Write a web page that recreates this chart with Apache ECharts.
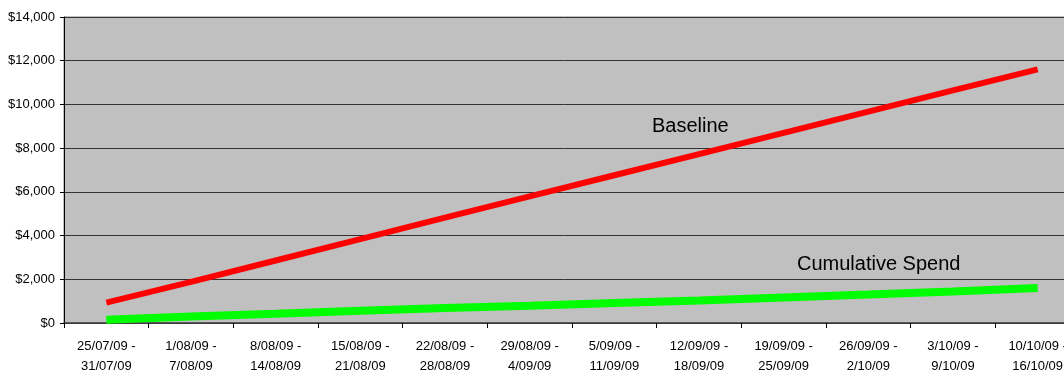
<!DOCTYPE html>
<html>
<head>
<meta charset="utf-8">
<script src="https://cdn.jsdelivr.net/npm/echarts@6/dist/echarts.min.js"></script>
<style>
  html, body { margin: 0; padding: 0; background: #fff; }
  #main { width: 1064px; height: 374px; }
</style>
</head>
<body>
<div id="main"></div>
<script>
// week ranges
var weeks = ['25/07/09 -\n31/07/09', '1/08/09 -\n7/08/09', '8/08/09 -\n14/08/09', '15/08/09 -\n21/08/09',
  '22/08/09 -\n28/08/09', '29/08/09 -\n4/09/09', '5/09/09 -\n11/09/09', '12/09/09 -\n18/09/09',
  '19/09/09 -\n25/09/09', '26/09/09 -\n2/10/09', '3/10/09 -\n9/10/09', '10/10/09 -\n16/10/09'];

var baseline = [930, 1880, 2860, 3840, 4820, 5790, 6760, 7730, 8700, 9670, 10640, 11600];
var cumulativeSpend = [150, 300, 420, 560, 690, 790, 910, 1030, 1170, 1300, 1440, 1600];

var yTicks = { min: 0, max: 14000, interval: 2000 };

var chart = echarts.init(document.getElementById('main'));
var font = '"Liberation Sans", Arial, sans-serif';

var option = {
  animation: false,
  textStyle: { fontFamily: font },
  grid: {
    left: 64,
    top: 17,
    bottom: 51,
    right: -16,   // plot runs past the right edge, like the original
    containLabel: false,
    outerBoundsMode: 'none',
    show: true,
    backgroundColor: '#c0c0c0',
    borderColor: '#808080',
    borderWidth: 1
  },
  xAxis: {
    type: 'category',
    data: weeks,
    boundaryGap: true,
    axisLine: { lineStyle: { color: '#404040', width: 1.5 } },
    axisTick: { show: true, interval: 0, length: 5, lineStyle: { color: '#000' } },
    axisLabel: {
      interval: 0,
      color: '#000',
      fontSize: 13,
      lineHeight: 20,
      margin: 13,
      hideOverlap: false,
      fontFamily: font
    },
    splitLine: { show: false }
  },
  yAxis: {
    type: 'value',
    min: yTicks.min,
    max: yTicks.max,
    interval: yTicks.interval,
    axisLine: { show: true, lineStyle: { color: '#000', width: 1 } },
    axisTick: { show: true, length: 4, lineStyle: { color: '#000' } },
    axisLabel: {
      color: '#000',
      fontSize: 13,
      margin: 9,
      fontFamily: font,
      formatter: function (v) {
        return '$' + v.toLocaleString('en-US');
      }
    },
    splitLine: { show: true, lineStyle: { color: '#333', width: 1 } }
  },
  series: [
    {
      name: 'Baseline',
      type: 'line',
      data: baseline,
      symbol: 'none',
      lineStyle: { color: '#ff0000', width: 6, cap: 'butt' },
      itemStyle: { color: '#ff0000' }
    },
    {
      name: 'Cumulative Spend',
      type: 'line',
      data: cumulativeSpend,
      symbol: 'none',
      lineStyle: { color: '#00ff00', width: 8, cap: 'butt' },
      itemStyle: { color: '#00ff00' }
    }
  ],
  graphic: [
    {
      type: 'text',
      left: 652,
      top: 116,
      style: { text: 'Baseline', fill: '#000', font: '20px ' + font }
    },
    {
      type: 'text',
      left: 797,
      top: 254,
      style: { text: 'Cumulative Spend', fill: '#000', font: '20px ' + font }
    }
  ]
};

chart.setOption(option);
</script>
</body>
</html>
